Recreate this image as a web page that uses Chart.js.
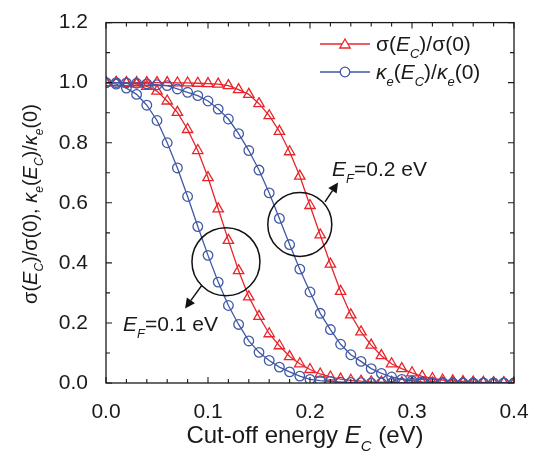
<!DOCTYPE html>
<html><head><meta charset="utf-8">
<script src="https://cdn.jsdelivr.net/npm/chart.js@4/dist/chart.umd.min.js"></script>
<style>html,body{margin:0;padding:0;background:#fff}#wrap{width:540px;height:459px}</style>
</head><body><div id="wrap"><canvas id="c" width="540" height="459"></canvas></div>
<script>
// ---- data ----
const energy = [0.00,0.01,0.02,0.03,0.04,0.05,0.06,0.07,0.08,0.09,0.10,0.11,0.12,0.13,0.14,0.15,0.16,0.17,0.18,0.19,0.20,
                0.21,0.22,0.23,0.24,0.25,0.26,0.27,0.28,0.29,0.30,0.31,0.32,0.33,0.34,0.35,0.36,0.37,0.38,0.39,0.40];
const sigmaEF01 = [1.000,1.000,0.998,0.995,0.988,0.972,0.939,0.901,0.844,0.774,0.684,0.580,0.475,0.374,0.287,0.222,0.164,0.124,0.088,0.064,0.045,
                   0.030,0.020,0.013,0.009,0.006,0.004,0.003,0.002,0.001,0.001,0,0,0,0,0,0,0,0,0,0];
const kappaEF01 = [1.000,0.995,0.982,0.961,0.925,0.874,0.800,0.716,0.621,0.521,0.425,0.336,0.258,0.195,0.140,0.102,0.075,0.053,0.037,0.023,0.012,
                   0.008,0.005,0.003,0.002,0.001,0,0,0,0,0,0,0,0,0,0,0,0,0,0,0];
const sigmaEF02 = [1,1,1,1,1,1,1,0.999,0.999,0.998,0.997,0.995,0.990,0.977,0.961,0.930,0.890,0.838,0.770,0.689,0.591,
                   0.493,0.396,0.305,0.227,0.170,0.126,0.091,0.064,0.048,0.034,0.022,0.015,0.010,0.007,0.005,0.003,0.002,0.001,0.001,0];
const kappaEF02 = [1.000,1.000,0.999,0.998,0.996,0.993,0.990,0.979,0.968,0.957,0.939,0.912,0.879,0.830,0.774,0.709,0.633,0.548,0.461,0.379,0.303,
                   0.232,0.178,0.129,0.094,0.072,0.048,0.032,0.020,0.012,0.007,0.004,0.002,0.001,0,0,0,0,0,0,0];
const xTicks = [0.0,0.1,0.2,0.3,0.4];
const yTicks = [0.0,0.2,0.4,0.6,0.8,1.0,1.2];

// ---- styles ----
const RED = '#e8252b', BLUE = '#4159a6', INK = '#1a1a1a';
const FAM = '"Liberation Sans", Arial, sans-serif';
const pts = a => a.map((v,i)=>({x:energy[i], y:v}));

function richWidth(ctx, parts, size){
  let w=0; parts.forEach(p=>{ctx.font=(p.i?'italic ':'')+Math.round(p.s?size*0.62:size)+'px '+FAM; p.w=ctx.measureText(p.t).width; w+=p.w;}); return w;
}
function drawRich(ctx, parts, x, y, size, align){
  const w = richWidth(ctx, parts, size);
  let cx = align==='center' ? x - w/2 : x;
  ctx.textAlign='left'; ctx.textBaseline='alphabetic'; ctx.fillStyle=INK;
  parts.forEach(p=>{ctx.font=(p.i?'italic ':'')+Math.round(p.s?size*0.62:size)+'px '+FAM;
    ctx.fillText(p.t, cx, y + (p.s? size*0.32:0)); cx+=p.w;});
}

const legendItems = [
  {color:RED, style:'triangle', r:6, parts:[{t:'σ('},{t:'E',i:1},{t:'C',i:1,s:1},{t:')/σ(0)'}]},
  {color:BLUE, style:'circle', r:4.8, parts:[{t:'κ',i:1},{t:'e',i:1,s:1},{t:'('},{t:'E',i:1},{t:'C',i:1,s:1},{t:')/'},{t:'κ',i:1},{t:'e',i:1,s:1},{t:'(0)'}]}
];
const annotations = {
  circles:[{x:0.1176,y:0.404,r:34},{x:0.190,y:0.528,r:32}],
  arrows:[{x1:0.0941,y1:0.326,x2:0.0775,y2:0.248},{x1:0.2147,y1:0.603,x2:0.2275,y2:0.668}],
  texts:[{x:0.0167,y:0.173,sub:'F',val:'=0.1 eV'},{x:0.2216,y:0.688,sub:'F',val:'=0.2 eV'}]
};

const decor = {
  id:'decor',
  afterDraw(chart){
    const ctx = chart.ctx, a = chart.chartArea, xs = chart.scales.x, ys = chart.scales.y;
    ctx.save();
    // frame
    ctx.strokeStyle=INK; ctx.lineWidth=1.3;
    ctx.strokeRect(a.left, a.top, a.right-a.left, a.bottom-a.top);
    // inward ticks
    ctx.lineWidth=1.1; ctx.beginPath();
    for(let k=0;k<=20;k++){ const v=k*0.02, px=xs.getPixelForValue(v), L=(k%5===0)?6:4;
      ctx.moveTo(px,a.bottom); ctx.lineTo(px,a.bottom-L); ctx.moveTo(px,a.top); ctx.lineTo(px,a.top+L);}
    for(let k=0;k<=12;k++){ const v=k*0.1, py=ys.getPixelForValue(v), L=(k%2===0)?6:4;
      ctx.moveTo(a.left,py); ctx.lineTo(a.left+L,py); ctx.moveTo(a.right,py); ctx.lineTo(a.right-L,py);}
    ctx.stroke();
    // axis titles
    drawRich(ctx,[{t:'Cut-off energy '},{t:'E',i:1},{t:'C',i:1,s:1},{t:' (eV)'}], 305, 443, 24, 'center');
    ctx.save(); ctx.translate(37, 204); ctx.rotate(-Math.PI/2);
    drawRich(ctx,[{t:'σ('},{t:'E',i:1},{t:'C',i:1,s:1},{t:')/σ(0), '},{t:'κ',i:1},{t:'e',i:1,s:1},{t:'('},{t:'E',i:1},{t:'C',i:1,s:1},{t:')/'},{t:'κ',i:1},{t:'e',i:1,s:1},{t:'(0)'}], 0, 0, 19.5, 'center');
    ctx.restore();
    // legend
    legendItems.forEach((it,k)=>{
      const y = 44 + k*28;
      ctx.strokeStyle=it.color; ctx.lineWidth=1.3;
      ctx.beginPath(); ctx.moveTo(320,y); ctx.lineTo(370,y); ctx.stroke();
      ctx.fillStyle='#ffffff';
      Chart.helpers.drawPoint(ctx,{pointStyle:it.style, radius:it.r, rotation:0, borderWidth:1.3}, 345, y+ (it.style==='triangle'?1:0));
      drawRich(ctx,it.parts,376,y+7,21,'left');
    });
    // annotations
    ctx.strokeStyle='#111'; ctx.fillStyle='#111'; ctx.lineWidth=1.5;
    annotations.circles.forEach(c=>{ctx.beginPath(); ctx.arc(xs.getPixelForValue(c.x), ys.getPixelForValue(c.y), c.r, 0, Math.PI*2); ctx.stroke();});
    annotations.arrows.forEach(r=>{
      const x1=xs.getPixelForValue(r.x1), y1=ys.getPixelForValue(r.y1), x2=xs.getPixelForValue(r.x2), y2=ys.getPixelForValue(r.y2);
      const ang=Math.atan2(y2-y1,x2-x1), hl=10, hw=5;
      const bx=x2-hl*Math.cos(ang), by=y2-hl*Math.sin(ang);
      ctx.fillStyle='#111';
      ctx.beginPath(); ctx.moveTo(x1,y1); ctx.lineTo(bx,by); ctx.stroke();
      ctx.beginPath(); ctx.moveTo(x2,y2);
      ctx.lineTo(bx+hw*Math.sin(ang), by-hw*Math.cos(ang));
      ctx.lineTo(bx-hw*Math.sin(ang), by+hw*Math.cos(ang)); ctx.closePath(); ctx.fill();
    });
    annotations.texts.forEach(t=>{
      drawRich(ctx,[{t:'E',i:1},{t:t.sub,i:1,s:1},{t:t.val}], xs.getPixelForValue(t.x), ys.getPixelForValue(t.y), 21, 'left');
    });
    ctx.restore();
  }
};

const ds = (data, color, style, r) => ({data: pts(data), borderColor:color, backgroundColor:'rgba(0,0,0,0)',
  borderWidth:1.3, pointStyle:style, pointRadius:r, pointBorderWidth:1.3, pointBorderColor:color,
  pointBackgroundColor:'rgba(0,0,0,0)', tension:0, showLine:true});

new Chart(document.getElementById('c'), {
  type:'scatter',
  data:{datasets:[
    Object.assign(ds(kappaEF01, BLUE, 'circle', 4.8), {label:'κe(EC)/κe(0), EF=0.1 eV'}),
    Object.assign(ds(kappaEF02, BLUE, 'circle', 4.8), {label:'κe(EC)/κe(0), EF=0.2 eV'}),
    Object.assign(ds(sigmaEF01, RED, 'triangle', 6), {label:'σ(EC)/σ(0), EF=0.1 eV'}),
    Object.assign(ds(sigmaEF02, RED, 'triangle', 6), {label:'σ(EC)/σ(0), EF=0.2 eV'})
  ]},
  options:{
    responsive:false, animation:false, devicePixelRatio:1,
    layout:{padding:{top:15,right:26,left:0,bottom:0}},
    plugins:{legend:{display:false}, tooltip:{enabled:false}},
    scales:{
      x:{type:'linear', min:0, max:0.4, grid:{display:false}, border:{display:false},
         afterBuildTicks:s=>{s.ticks=xTicks.map(v=>({value:v}));},
         ticks:{padding:9, color:INK, font:{family:FAM,size:21}, maxRotation:0, callback:v=>Number(v).toFixed(1)},
         afterFit:s=>{s.height=76;}},
      y:{type:'linear', min:0, max:1.2, grid:{display:false}, border:{display:false},
         afterBuildTicks:s=>{s.ticks=yTicks.map(v=>({value:v}));},
         ticks:{padding:10, color:INK, font:{family:FAM,size:21}, callback:v=>Number(v).toFixed(1)},
         afterFit:s=>{s.width=106;}}
    }
  },
  plugins:[decor]
});
</script></body></html>
